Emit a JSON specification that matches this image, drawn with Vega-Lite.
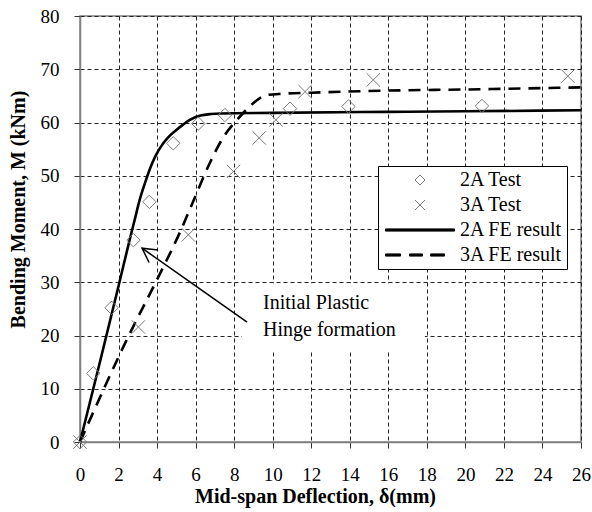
{
  "$schema": "https://vega.github.io/schema/vega-lite/v6.json",
  "width": 501,
  "height": 426,
  "autosize": {"type": "none"},
  "padding": {"left": 80, "top": 16, "right": 11, "bottom": 70},
  "background": "white",
  "config": {
    "font": "Liberation Serif",
    "view": {"stroke": "#808080", "strokeWidth": 1.5},
    "axis": {
      "labelFont": "Liberation Serif",
      "labelFontSize": 19,
      "labelColor": "black",
      "titleFont": "Liberation Serif",
      "titleFontSize": 20,
      "titleFontWeight": "bold",
      "titleColor": "black",
      "domainColor": "#808080",
      "domainWidth": 1.5,
      "tickColor": "#333333",
      "tickSize": 6,
      "tickWidth": 1,
      "grid": true,
      "gridColor": "#222222",
      "gridWidth": 1,
      "gridDash": [4, 3],
      "gridOpacity": 1
    },
    "legend": {
      "orient": "none",
      "legendX": 298,
      "legendY": 150,
      "strokeColor": "black",
      "fillColor": "white",
      "padding": 4,
      "cornerRadius": 0,
      "labelFont": "Liberation Serif",
      "labelFontSize": 20,
      "labelColor": "black",
      "symbolSize": 100,
      "symbolStrokeWidth": 1,
      "rowPadding": 5,
      "symbolOffset": 28,
      "labelOffset": 30
    }
  },
  "datasets": {
    "tests": [
      {"series": "2A Test", "x": 0, "y": 0},
      {"series": "2A Test", "x": 0.69, "y": 12.9},
      {"series": "2A Test", "x": 1.64, "y": 25.2},
      {"series": "2A Test", "x": 2.77, "y": 37.9},
      {"series": "2A Test", "x": 3.6, "y": 45.1},
      {"series": "2A Test", "x": 4.84, "y": 56.1},
      {"series": "2A Test", "x": 6.14, "y": 59.8},
      {"series": "2A Test", "x": 7.52, "y": 61.4},
      {"series": "2A Test", "x": 10.9, "y": 62.6},
      {"series": "2A Test", "x": 13.93, "y": 63.0},
      {"series": "2A Test", "x": 20.86, "y": 63.1},
      {"series": "3A Test", "x": 0, "y": 0},
      {"series": "3A Test", "x": 3.03, "y": 21.6},
      {"series": "3A Test", "x": 5.62, "y": 38.9},
      {"series": "3A Test", "x": 7.96, "y": 50.8},
      {"series": "3A Test", "x": 9.3, "y": 57.1},
      {"series": "3A Test", "x": 10.17, "y": 60.5},
      {"series": "3A Test", "x": 11.68, "y": 65.8},
      {"series": "3A Test", "x": 15.22, "y": 68.0},
      {"series": "3A Test", "x": 25.32, "y": 68.7}
    ],
    "fe": [
      {"series": "2A FE result", "x": 0, "y": 0},
      {"series": "2A FE result", "x": 1, "y": 14.5},
      {"series": "2A FE result", "x": 2, "y": 29.3},
      {"series": "2A FE result", "x": 2.6, "y": 38.3},
      {"series": "2A FE result", "x": 2.85, "y": 41.9},
      {"series": "2A FE result", "x": 3.1, "y": 45.5},
      {"series": "2A FE result", "x": 3.37, "y": 48.6},
      {"series": "2A FE result", "x": 3.65, "y": 51.5},
      {"series": "2A FE result", "x": 3.9, "y": 53.6},
      {"series": "2A FE result", "x": 4.32, "y": 56.1},
      {"series": "2A FE result", "x": 4.65, "y": 57.5},
      {"series": "2A FE result", "x": 5.0, "y": 58.6},
      {"series": "2A FE result", "x": 5.35, "y": 59.6},
      {"series": "2A FE result", "x": 5.7, "y": 60.5},
      {"series": "2A FE result", "x": 6.25, "y": 61.3},
      {"series": "2A FE result", "x": 6.8, "y": 61.6},
      {"series": "2A FE result", "x": 7.3, "y": 61.7},
      {"series": "2A FE result", "x": 10, "y": 61.8},
      {"series": "2A FE result", "x": 16, "y": 62.0},
      {"series": "2A FE result", "x": 20, "y": 62.1},
      {"series": "2A FE result", "x": 26, "y": 62.3},
      {"series": "3A FE result", "x": 0, "y": 0},
      {"series": "3A FE result", "x": 2.6, "y": 20.5},
      {"series": "3A FE result", "x": 4, "y": 30.5},
      {"series": "3A FE result", "x": 5.2, "y": 39.5},
      {"series": "3A FE result", "x": 5.9, "y": 45.4},
      {"series": "3A FE result", "x": 6.75, "y": 52.5},
      {"series": "3A FE result", "x": 7.45, "y": 57.3},
      {"series": "3A FE result", "x": 8.15, "y": 60.5},
      {"series": "3A FE result", "x": 8.8, "y": 63.0},
      {"series": "3A FE result", "x": 9.3, "y": 64.5},
      {"series": "3A FE result", "x": 9.8, "y": 65.2},
      {"series": "3A FE result", "x": 10.5, "y": 65.4},
      {"series": "3A FE result", "x": 12, "y": 65.6},
      {"series": "3A FE result", "x": 16, "y": 66.0},
      {"series": "3A FE result", "x": 20, "y": 66.2},
      {"series": "3A FE result", "x": 26, "y": 66.6}
    ],
    "box": [{"x": 8.4, "x2": 17.9, "y": 16.9, "y2": 29.8}],
    "arrow": [{"x": 8.67, "y": 22.5, "x2": 3.22, "y2": 36.4}],
    "arrowhead": [{"x": 3.22, "y": 36.4}],
    "note": [
      {"x": 9.5, "y": 26.1, "label": "Initial Plastic"},
      {"x": 9.5, "y": 21.0, "label": "Hinge formation"}
    ]
  },
  "encoding": {
    "x": {
      "field": "x", "type": "quantitative",
      "scale": {"domain": [0, 26], "nice": false, "zero": false},
      "axis": {
        "values": [0, 2, 4, 6, 8, 10, 12, 14, 16, 18, 20, 22, 24, 26],
        "labelOverlap": false,
        "labelBound": false,
        "labelFlush": false,
        "labelExpr": "format(datum.value, 'd')",
        "title": "Mid-span Deflection, δ(mm)",
        "labelPadding": 17,
        "titleX": 235,
        "titleY": 60,
        "titleBaseline": "alphabetic",
        "titleAlign": "center"
      }
    },
    "y": {
      "field": "y", "type": "quantitative",
      "scale": {"domain": [0, 80], "nice": false, "zero": false},
      "axis": {
        "values": [0, 10, 20, 30, 40, 50, 60, 70, 80],
        "labelOverlap": false,
        "labelBound": false,
        "labelFlush": false,
        "title": "Bending Moment, M (kNm)",
        "labelPadding": 15,
        "titleX": -62,
        "titleY": 193,
        "titleAngle": -90,
        "titleAlign": "center",
        "titleBaseline": "middle"
      }
    }
  },
  "layer": [
    {
      "data": {"name": "box"},
      "mark": {"type": "rect", "fill": "white"},
      "encoding": {
        "x2": {"field": "x2"},
        "y2": {"field": "y2"}
      }
    },
    {
      "data": {"name": "fe"},
      "transform": [{"filter": "datum.series === '2A FE result'"}],
      "mark": {"type": "line", "stroke": "black", "strokeWidth": 2.6, "interpolate": "monotone"},
      "encoding": {}
    },
    {
      "data": {"name": "fe"},
      "transform": [{"filter": "datum.series === '3A FE result'"}],
      "mark": {"type": "line", "stroke": "black", "strokeWidth": 2.6, "strokeDash": [12, 8], "interpolate": "monotone"},
      "encoding": {}
    },
    {
      "data": {"name": "tests"},
      "mark": {"type": "point", "size": 180, "strokeWidth": 1, "opacity": 1},
      "encoding": {
        "shape": {
          "field": "series", "type": "nominal",
          "scale": {
            "domain": ["2A Test", "3A Test", "2A FE result", "3A FE result"],
            "range": [
              "diamond",
              "M-1,-1L1,1M-1,1L1,-1",
              "M-6.9,-0.22L6.9,-0.22L6.9,0.22L-6.9,0.22Z",
              "M-6.9,-0.22L-3.9,-0.22L-3.9,0.22L-6.9,0.22ZM-2.1,-0.22L0.5,-0.22L0.5,0.22L-2.1,0.22ZM2.1,-0.22L4.9,-0.22L4.9,0.22L2.1,0.22Z"
            ]
          },
          "legend": {"title": null}
        },
        "stroke": {
          "field": "series", "type": "nominal",
          "scale": {
            "domain": ["2A Test", "3A Test", "2A FE result", "3A FE result"],
            "range": ["#7a7a7a", "#7a7a7a", "black", "black"]
          },
          "legend": {"title": null}
        },
        "fill": {
          "field": "series", "type": "nominal",
          "scale": {
            "domain": ["2A Test", "3A Test", "2A FE result", "3A FE result"],
            "range": ["transparent", "transparent", "black", "black"]
          },
          "legend": {"title": null}
        }
      }
    },
    {
      "data": {"name": "arrow"},
      "mark": {"type": "rule", "stroke": "black", "strokeWidth": 1.5},
      "encoding": {
        "x2": {"field": "x2"},
        "y2": {"field": "y2"}
      }
    },
    {
      "data": {"name": "arrowhead"},
      "mark": {"type": "point", "shape": "M-1,-0.55L0,0L-1,0.55", "size": 784, "angle": 215, "filled": false, "stroke": "black", "strokeWidth": 1.5, "opacity": 1},
      "encoding": {}
    },
    {
      "data": {"name": "note"},
      "mark": {"type": "text", "align": "left", "baseline": "middle", "font": "Liberation Serif", "fontSize": 20, "color": "black"},
      "encoding": {
        "text": {"field": "label"}
      }
    }
  ]
}
